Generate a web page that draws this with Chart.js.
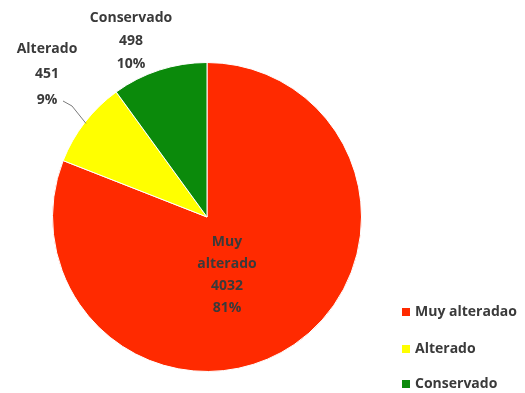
<!DOCTYPE html>
<html>
<head>
<meta charset="utf-8">
<script src="https://cdn.jsdelivr.net/npm/chart.js@4"></script>
<style>
  html, body { margin: 0; padding: 0; background: #fff; }
  #wrap { width: 525px; height: 393px; }
</style>
</head>
<body>
<div id="wrap"><canvas id="chart" width="525" height="393"></canvas></div>
<script>
// data
const categories = ['Muy alterado', 'Alterado', 'Conservado'];
const legendNames = ['Muy alteradao', 'Alterado', 'Conservado'];
const counts = [4032, 451, 498];
const percents = ['81%', '9%', '10%'];
const colors = ['#ff2a00', '#ffff00', '#0b8a0b'];

const textColor = '#3a3a3a';
const labelFont = 'bold 14px "Open Sans", sans-serif';

// first-line offsets of each label from pie centre (px)
const labelOffsets = [[20, 25], [-160, -168], [-76, -199]];
const lineGap = [22, 25.5, 23];

const labelPlugin = {
    id: 'pieLabels',
    afterDatasetsDraw(chart) {
        const ctx = chart.ctx;
        const meta = chart.getDatasetMeta(0);
        const arc0 = meta.data[0];
        const cx = arc0.x, cy = arc0.y;
        ctx.save();
        ctx.font = labelFont;
        ctx.fillStyle = textColor;
        ctx.textAlign = 'center';
        ctx.textBaseline = 'middle';
        categories.forEach((name, i) => {
            let lines = [name, String(counts[i]), percents[i]];
            if (i === 0) lines = ['Muy', 'alterado', String(counts[i]), percents[i]];
            const top = cy + labelOffsets[i][1];
            const x = cx + labelOffsets[i][0];
            lines.forEach((t, k) => ctx.fillText(t, x, top + k * lineGap[i]));
        });
        // leader line for Alterado
        const a = meta.data[1];
        const mid = (a.startAngle + a.endAngle) / 2;
        const ex = a.x + a.outerRadius * 0.99 * Math.cos(mid);
        const ey = a.y + a.outerRadius * 0.99 * Math.sin(mid);
        const sx = cx + labelOffsets[1][0] + 16;
        const sy = cy + labelOffsets[1][1] + 2 * lineGap[1] + 1;
        ctx.strokeStyle = '#7a7a7a';
        ctx.lineWidth = 1;
        ctx.beginPath();
        ctx.moveTo(sx, sy);
        ctx.lineTo(sx + 9, sy + 5);
        ctx.lineTo(ex, ey);
        ctx.stroke();

        // legend
        const lx = 402, ly = [312, 349, 384];
        ctx.font = 'bold 14px "Open Sans", sans-serif';
        ctx.textAlign = 'left';
        legendNames.forEach((n, i) => {
            ctx.fillStyle = colors[i];
            ctx.fillRect(lx, ly[i] - 4, 8, 8);
            ctx.fillStyle = textColor;
            ctx.fillText(n, lx + 13, ly[i]);
        });
        ctx.restore();
    }
};

new Chart(document.getElementById('chart'), {
    type: 'pie',
    data: {
        labels: categories,
        datasets: [{
            data: counts,
            backgroundColor: colors,
            borderColor: '#ffffff',
            borderWidth: 1
        }]
    },
    options: {
        responsive: false,
        animation: false,
        layout: { padding: { top: 62, bottom: 21, left: 52, right: 163 } },
        plugins: {
            legend: { display: false },
            tooltip: { enabled: false }
        }
    },
    plugins: [labelPlugin]
});
</script>
</body>
</html>
